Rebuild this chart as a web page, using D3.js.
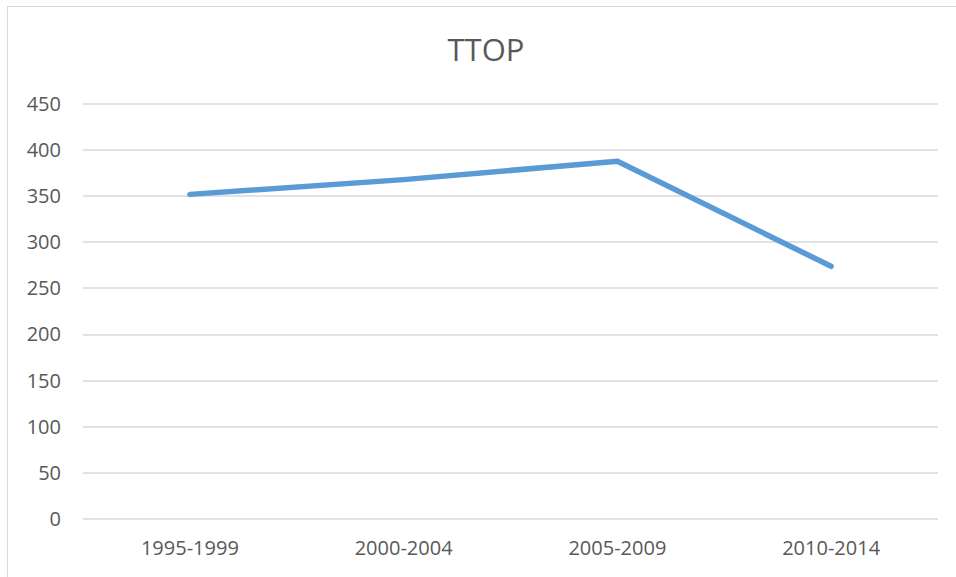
<!DOCTYPE html>
<html>
<head>
<meta charset="utf-8">
<script src="https://cdn.jsdelivr.net/npm/d3@7"></script>
<style>
  body { margin: 0; background: #fff; }
  text { font-family: "Open Sans", sans-serif; fill: #595959; }
</style>
</head>
<body>
<div id="chart"></div>
<script>
// data
const periods = ["1995-1999", "2000-2004", "2005-2009", "2010-2014"];
const ttop = [352, 368, 388, 274];
const yTicks = [0, 50, 100, 150, 200, 250, 300, 350, 400, 450];
const title = "TTOP";

const width = 956;
const height = 577;
const margin = {top: 104, right: 18, bottom: 58, left: 83};

const svg = d3.select("#chart").append("svg")
    .attr("width", width)
    .attr("height", height);

// chart frame (only top/left edges show in the crop)
svg.append("rect")
    .attr("x", 7.5)
    .attr("y", 6.5)
    .attr("width", 1000)
    .attr("height", 700)
    .attr("fill", "none")
    .attr("stroke", "#d9d9d9")
    .attr("stroke-width", 1);

const x = d3.scaleBand()
    .domain(periods)
    .range([margin.left, width - margin.right]);

const y = d3.scaleLinear()
    .domain([0, 450])
    .range([height - margin.bottom, margin.top]);

// grid lines
svg.append("g")
    .selectAll("line")
    .data(yTicks)
    .enter()
    .append("line")
    .attr("x1", margin.left)
    .attr("x2", width - margin.right)
    .attr("y1", d => Math.round(y(d)))
    .attr("y2", d => Math.round(y(d)))
    .attr("stroke", "#d9d9d9")
    .attr("stroke-width", 1.5);

// y axis labels
const yAxis = svg.append("g")
    .attr("transform", "translate(" + (margin.left - 22) + ",0)")
    .call(d3.axisLeft(y).tickValues(yTicks).tickSize(0).tickPadding(0));
yAxis.select(".domain").remove();
yAxis.selectAll("text")
    .style("font-size", "20px")
    .style("font-family", "'Open Sans', sans-serif")
    .attr("fill", "#595959");

// x axis labels
const xAxis = svg.append("g")
    .attr("transform", "translate(0," + (height - margin.bottom) + ")")
    .call(d3.axisBottom(x).tickSize(0).tickPadding(22));
xAxis.select(".domain").remove();
xAxis.selectAll("text")
    .style("font-size", "20px")
    .style("font-family", "'Open Sans', sans-serif")
    .attr("fill", "#595959");

// the series line
const line = d3.line()
    .x((d, i) => x(periods[i]) + x.bandwidth() / 2)
    .y(d => y(d));

svg.append("path")
    .datum(ttop)
    .attr("d", line)
    .attr("fill", "none")
    .attr("stroke", "#5b9bd5")
    .attr("stroke-width", 5.5)
    .attr("stroke-linecap", "round")
    .attr("stroke-linejoin", "round");

// title
svg.append("text")
    .attr("x", 486)
    .attr("y", 61)
    .attr("text-anchor", "middle")
    .style("font-size", "31px")
    .text(title);
</script>
</body>
</html>
